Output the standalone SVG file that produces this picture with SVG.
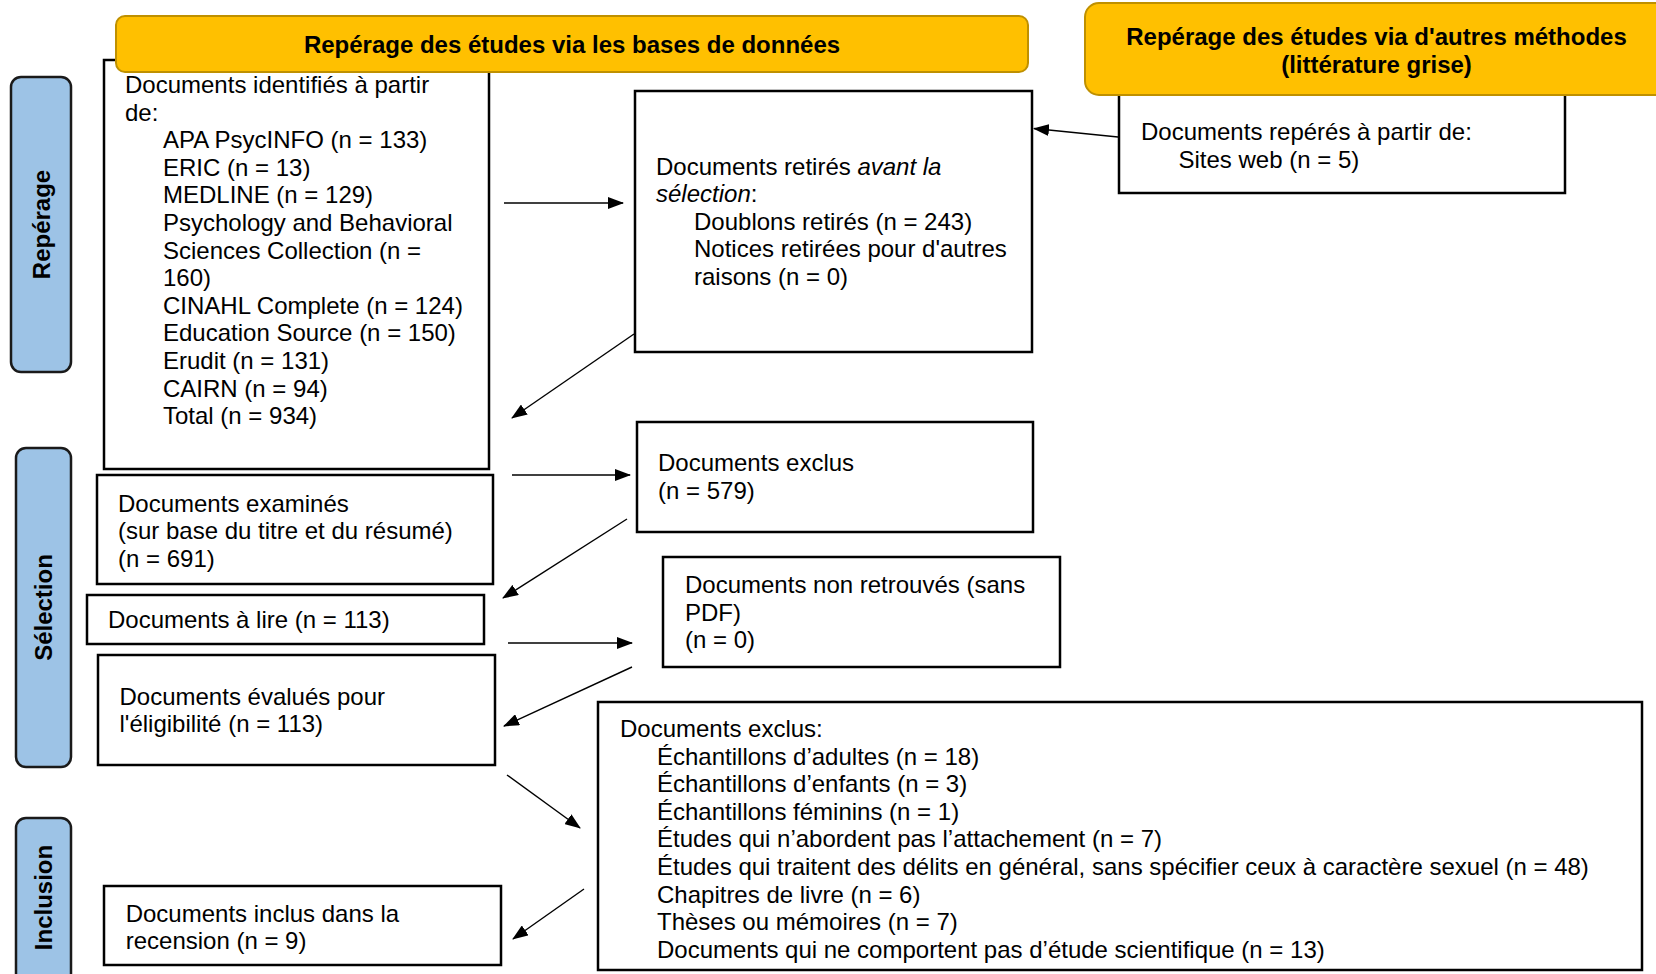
<svg xmlns="http://www.w3.org/2000/svg" width="1656" height="974" viewBox="0 0 1656 974">
<style>
  .box { fill: #ffffff; stroke: #000000; stroke-width: 2.5; }
  .hdr { fill: #FFC000; stroke: #BF9000; stroke-width: 2; }
  .side { fill: #9DC3E6; stroke: #1a1a1a; stroke-width: 2.5; }
  .t { font-family: "Liberation Sans", Arial, sans-serif; font-size: 24px; fill: #000000; }
  .b { font-family: "Liberation Sans", Arial, sans-serif; font-size: 24px; font-weight: bold; fill: #000000; }
  .conn line { stroke: #000000; stroke-width: 1.4; marker-end: url(#arr); }
</style>
<defs>
  <marker id="arr" markerUnits="userSpaceOnUse" markerWidth="16" markerHeight="12" viewBox="0 0 16 12" refX="15" refY="6" orient="auto">
    <path d="M0,0 L16,6 L0,12 z" fill="#000000"/>
  </marker>
</defs>
<rect width="1656" height="974" fill="#ffffff"/>

<g id="side-reperage">
  <rect class="side" x="11" y="77" width="60" height="295" rx="10"/>
  <text class="b" transform="translate(50,224.5) rotate(-90)" text-anchor="middle">Repérage</text>
</g>
<g id="side-selection">
  <rect class="side" x="16" y="448" width="55" height="319" rx="10"/>
  <text class="b" transform="translate(52,607.5) rotate(-90)" text-anchor="middle">Sélection</text>
</g>
<g id="side-inclusion">
  <rect class="side" x="16" y="818" width="55" height="170" rx="10"/>
  <text class="b" transform="translate(52,897.5) rotate(-90)" text-anchor="middle">Inclusion</text>
</g>

<g id="box-identifies">
  <rect class="box" x="104" y="60" width="385" height="409"/>
  <text class="t" x="125" y="93">Documents identifiés à partir</text>
  <text class="t" x="125" y="120.6">de:</text>
  <text class="t" x="163" y="148.2">APA PsycINFO (n = 133)</text>
  <text class="t" x="163" y="175.8">ERIC (n = 13)</text>
  <text class="t" x="163" y="203.4">MEDLINE (n = 129)</text>
  <text class="t" x="163" y="231">Psychology and Behavioral</text>
  <text class="t" x="163" y="258.6">Sciences Collection (n =</text>
  <text class="t" x="163" y="286.2">160)</text>
  <text class="t" x="163" y="313.8">CINAHL Complete (n = 124)</text>
  <text class="t" x="163" y="341.4">Education Source (n = 150)</text>
  <text class="t" x="163" y="369">Erudit (n = 131)</text>
  <text class="t" x="163" y="396.6">CAIRN (n = 94)</text>
  <text class="t" x="163" y="424.2">Total (n = 934)</text>
</g>

<g id="header-bases">
  <rect class="hdr" x="116" y="16" width="912" height="56" rx="9"/>
  <text class="b" x="572" y="52.5" text-anchor="middle">Repérage des études via les bases de données</text>
</g>

<g id="box-reperes">
  <rect class="box" x="1119" y="88" width="446" height="105"/>
  <text class="t" x="1141" y="140">Documents repérés à partir de:</text>
  <text class="t" x="1178.5" y="167.6">Sites web (n = 5)</text>
</g>

<g id="header-autres">
  <rect class="hdr" x="1085" y="3" width="590" height="92" rx="14"/>
  <text class="b" x="1376.5" y="45" text-anchor="middle">Repérage des études via d'autres méthodes</text>
  <text class="b" x="1376.5" y="72.6" text-anchor="middle">(littérature grise)</text>
</g>

<g id="box-retires">
  <rect class="box" x="635" y="91" width="397" height="261"/>
  <text class="t" x="656" y="174.5">Documents retirés <tspan font-style="italic">avant la</tspan></text>
  <text class="t" x="656" y="202.1"><tspan font-style="italic">sélection</tspan>:</text>
  <text class="t" x="694" y="229.7">Doublons retirés (n = 243)</text>
  <text class="t" x="694" y="257.3">Notices retirées pour d'autres</text>
  <text class="t" x="694" y="284.9">raisons (n = 0)</text>
</g>

<g id="box-examines">
  <rect class="box" x="97" y="475" width="396" height="109"/>
  <text class="t" x="118" y="511.5">Documents examinés</text>
  <text class="t" x="118" y="539.1">(sur base du titre et du résumé)</text>
  <text class="t" x="118" y="566.7">(n = 691)</text>
</g>

<g id="box-exclus-579">
  <rect class="box" x="637" y="422" width="396" height="110"/>
  <text class="t" x="658" y="471">Documents exclus</text>
  <text class="t" x="658" y="498.6">(n = 579)</text>
</g>

<g id="box-a-lire">
  <rect class="box" x="87" y="595" width="397" height="49"/>
  <text class="t" x="108" y="628">Documents à lire (n = 113)</text>
</g>

<g id="box-non-retrouves">
  <rect class="box" x="663" y="557" width="397" height="110"/>
  <text class="t" x="685" y="593">Documents non retrouvés (sans</text>
  <text class="t" x="685" y="620.6">PDF)</text>
  <text class="t" x="685" y="648.2">(n = 0)</text>
</g>

<g id="box-evalues">
  <rect class="box" x="98" y="655" width="397" height="110"/>
  <text class="t" x="119.5" y="704.5">Documents évalués pour</text>
  <text class="t" x="119.5" y="732.1">l'éligibilité (n = 113)</text>
</g>

<g id="box-exclus-liste">
  <rect class="box" x="598" y="702" width="1044" height="268"/>
  <text class="t" x="620" y="737">Documents exclus:</text>
  <text class="t" x="657" y="764.6">Échantillons d’adultes (n = 18)</text>
  <text class="t" x="657" y="792.2">Échantillons d’enfants (n = 3)</text>
  <text class="t" x="657" y="819.8">Échantillons féminins (n = 1)</text>
  <text class="t" x="657" y="847.4">Études qui n’abordent pas l’attachement (n = 7)</text>
  <text class="t" x="657" y="875">Études qui traitent des délits en général, sans spécifier ceux à caractère sexuel (n = 48)</text>
  <text class="t" x="657" y="902.6">Chapitres de livre (n = 6)</text>
  <text class="t" x="657" y="930.2">Thèses ou mémoires (n = 7)</text>
  <text class="t" x="657" y="957.8">Documents qui ne comportent pas d’étude scientifique (n = 13)</text>
</g>

<g id="box-inclus">
  <rect class="box" x="104" y="886" width="397" height="79"/>
  <text class="t" x="125.7" y="921.5">Documents inclus dans la</text>
  <text class="t" x="125.7" y="949.1">recension (n = 9)</text>
</g>

<g id="connectors" class="conn">
  <line x1="1118" y1="137" x2="1034" y2="128.5"/>
  <line x1="504" y1="203" x2="623" y2="203"/>
  <line x1="634" y1="334" x2="512" y2="418"/>
  <line x1="512" y1="475" x2="630" y2="475"/>
  <line x1="627" y1="519" x2="503" y2="598"/>
  <line x1="508" y1="643" x2="632" y2="643"/>
  <line x1="632" y1="667" x2="504" y2="726"/>
  <line x1="507" y1="775" x2="580" y2="828"/>
  <line x1="584" y1="889" x2="513" y2="939"/>
</g>
</svg>
